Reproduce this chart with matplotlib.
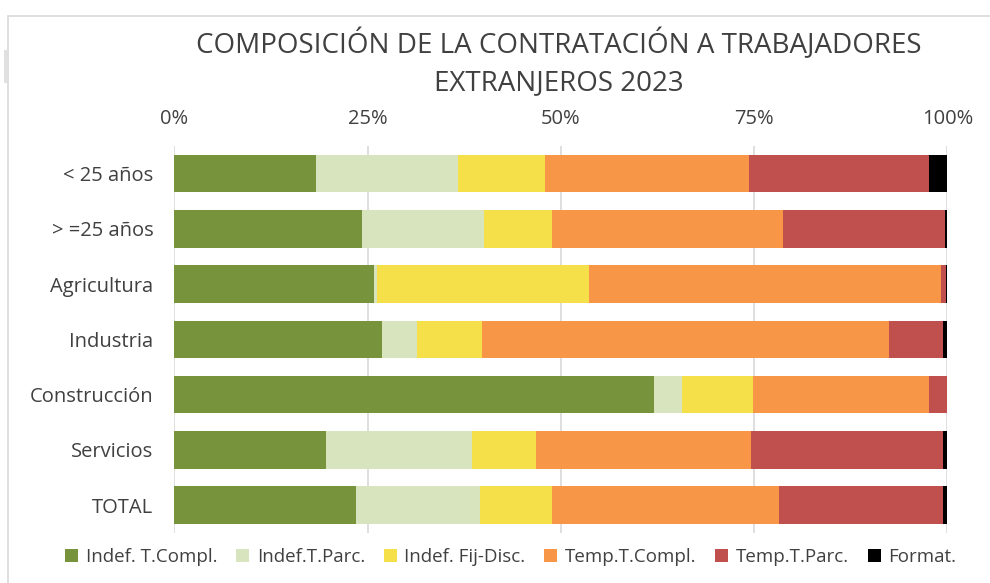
import numpy as np
import matplotlib.pyplot as plt
from matplotlib.patches import Rectangle

plt.rcParams['font.family'] = ['Open Sans', 'DejaVu Sans']

# Datos (porcentajes)
categorias = ['< 25 años', '> =25 años', 'Agricultura', 'Industria', 'Construcción', 'Servicios', 'TOTAL']
series = ['Indef. T.Compl.', 'Indef.T.Parc.', 'Indef. Fij-Disc.', 'Temp.T.Compl.', 'Temp.T.Parc.', 'Format.']

indef_tcompl = [18.35, 24.3, 25.9, 26.9, 62.1, 19.65, 23.55]
indef_tparc = [18.4, 15.8, 0.3, 4.45, 3.6, 18.9, 16.05]
indef_fijdisc = [11.15, 8.8, 27.4, 8.5, 9.1, 8.3, 9.3]
temp_tcompl = [26.4, 29.8, 45.55, 52.55, 22.8, 27.75, 29.3]
temp_tparc = [23.3, 20.95, 0.65, 7.0, 2.3, 24.8, 21.2]
formacion = [2.4, 0.35, 0.2, 0.6, 0.1, 0.6, 0.6]

colores = ['#77933C', '#D7E4BD', '#F5E04A', '#F79646', '#C0504D', '#000000']
texto = '#404040'

valores = np.array([indef_tcompl, indef_tparc, indef_fijdisc, temp_tcompl, temp_tparc, formacion])
valores = valores / valores.sum(axis=0) * 100

fig = plt.figure(figsize=(9.9, 5.83), dpi=100)
ax = fig.add_axes([0.176, 0.086, 0.781, 0.664])

y = np.arange(len(categorias))
izq = np.zeros(len(categorias))
for i, nombre in enumerate(series):
    ax.barh(y, valores[i], left=izq, height=0.68, color=colores[i], label=nombre, zorder=3)
    izq += valores[i]

ax.set_xlim(0, 100)
ax.set_ylim(len(categorias) - 0.5, -0.5)
ax.set_xticks([0, 25, 50, 75, 100])
ax.set_xticklabels(['0%', '25%', '50%', '75%', '100%'])
ax.xaxis.tick_top()
ax.set_yticks(y)
ax.set_yticklabels(categorias)
ax.tick_params(axis='both', length=0, labelsize=14.5, colors=texto)
ax.tick_params(axis='x', pad=12)
ax.tick_params(axis='y', pad=15)
ax.grid(axis='x', color='#D9D9D9', linewidth=1.2, zorder=0)
for s in ax.spines.values():
    s.set_visible(False)

fig.text(0.564, 0.923, 'COMPOSICIÓN DE LA CONTRATACIÓN A TRABAJADORES', ha='center', va='center',
         fontsize=20, color=texto)
fig.text(0.564, 0.858, 'EXTRANJEROS 2023', ha='center', va='center', fontsize=20, color=texto)

fig.legend(loc='center', bbox_to_anchor=(0.516, 0.045), ncol=6, frameon=False, fontsize=13.5,
           labelcolor=texto, handlelength=0.7, handleheight=0.7, handletextpad=0.4, columnspacing=1.0)

# marco del gráfico
fig.patches.append(Rectangle((8 / 990, -0.1), 1.2, 1 - 16 / 583 + 0.1, transform=fig.transFigure,
                             fill=False, edgecolor='#D9D9D9', linewidth=1.2))
fig.patches.append(Rectangle((4 / 990, 1 - 83 / 583), 3 / 990, 33 / 583, transform=fig.transFigure,
                             color='#E0E0E0', linewidth=0))

fig.savefig('out.png', dpi=100)
